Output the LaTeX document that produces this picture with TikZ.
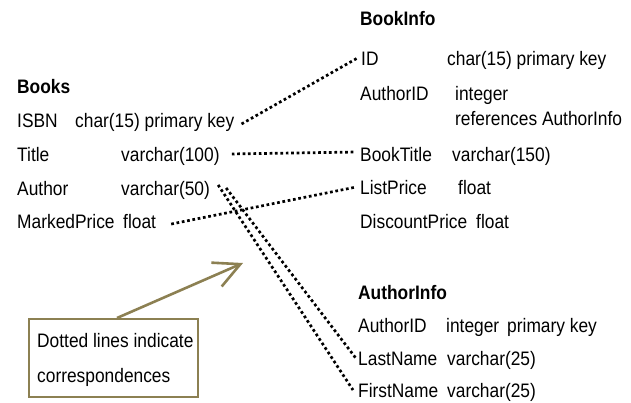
\documentclass[tikz,border=0pt]{standalone}
\usepackage{fontspec}
\setmainfont{Liberation Sans}[FakeStretch=0.89]
\usetikzlibrary{arrows.meta}
\definecolor{boxolive}{RGB}{140,128,82}
\begin{document}
\begin{tikzpicture}[x=1pt,y=-1pt,
  txt/.style={anchor=base west, inner sep=0pt, font=\fontsize{19.5}{23}\selectfont},
  hdr/.style={anchor=base west, inner sep=0pt, font=\fontsize{19.5}{23}\selectfont\bfseries},
  dotline/.style={line width=2.7pt, dash pattern=on 2.7pt off 2.7pt},
  notebox/.style={draw=boxolive, line width=2pt, anchor=north west, minimum width=169pt, minimum height=78pt, inner sep=0pt},
  pointer/.style={draw=boxolive, line width=2.6pt, -{Straight Barb[length=26pt,width=26pt,line width=2.6pt]}}]
\useasboundingbox (0,0) rectangle (631,402);

% BookInfo
\node[hdr] (bi) at (360,25) {BookInfo};
\node[txt] (bi-id) at (361,65) {ID};
\node[txt] (bi-id-t) at (447,65) {char(15) primary key};
\node[txt] (bi-aid) at (360,100) {AuthorID};
\node[txt] (bi-aid-t) at (455,100) {integer};
\node[txt] (bi-aid-r) at (455,125) {references AuthorInfo};
\node[txt] (bi-title) at (360,161) {BookTitle};
\node[txt] (bi-title-t) at (452,161) {varchar(150)};
\node[txt] (bi-lp) at (360,194) {ListPrice};
\node[txt] (bi-lp-t) at (458,194) {float};
\node[txt] (bi-dp) at (360,228) {DiscountPrice};
\node[txt] (bi-dp-t) at (476,228) {float};

% Books
\node[hdr] (b) at (17,93) {Books};
\node[txt] (b-isbn) at (17,127) {ISBN};
\node[txt] (b-isbn-t) at (75,127) {char(15) primary key};
\node[txt] (b-title) at (17,161) {Title};
\node[txt] (b-title-t) at (121,161) {varchar(100)};
\node[txt] (b-author) at (17,195) {Author};
\node[txt] (b-author-t) at (121,195) {varchar(50)};
\node[txt] (b-mp) at (17,228) {MarkedPrice};
\node[txt] (b-mp-t) at (123,228) {float};

% AuthorInfo
\node[hdr] (ai) at (358,299) {AuthorInfo};
\node[txt] (ai-id) at (358,332) {AuthorID};
\node[txt] (ai-id-t) at (446,332) {integer\hspace{8pt}primary key};
\node[txt] (ai-last) at (358,365) {LastName};
\node[txt] (ai-last-t) at (447,365) {varchar(25)};
\node[txt] (ai-first) at (358,397) {FirstName};
\node[txt] (ai-first-t) at (447,397) {varchar(25)};

% correspondences
\draw[dotline] ([xshift=7pt,yshift=-2pt]b-isbn-t.east) -- ([xshift=-4pt]bi-id.west);
\draw[dotline] ([xshift=12pt,yshift=2pt]b-title-t.east) -- ([xshift=-5pt,yshift=2pt]bi-title.west);
\draw[dotline] ([xshift=15pt,yshift=-3pt]b-mp-t.east) -- ([xshift=-4pt]bi-lp.west);
\draw[dotline] ([xshift=8pt,yshift=5pt]b-author-t.east) -- ([xshift=-5pt]ai-first.west);
\draw[dotline] ([xshift=16pt,yshift=2pt]b-author-t.east) -- ([xshift=-2pt]ai-last.west);

% note
\node[notebox] (note) at (28,318) {};
\node[txt] (note-l1) at (37,347) {Dotted lines indicate};
\node[txt] (note-l2) at (37,382) {correspondences};
\coordinate (tip) at (243,263);
\draw[pointer] ([xshift=3.5pt]note.north) -- (tip);
\end{tikzpicture}
\end{document}
